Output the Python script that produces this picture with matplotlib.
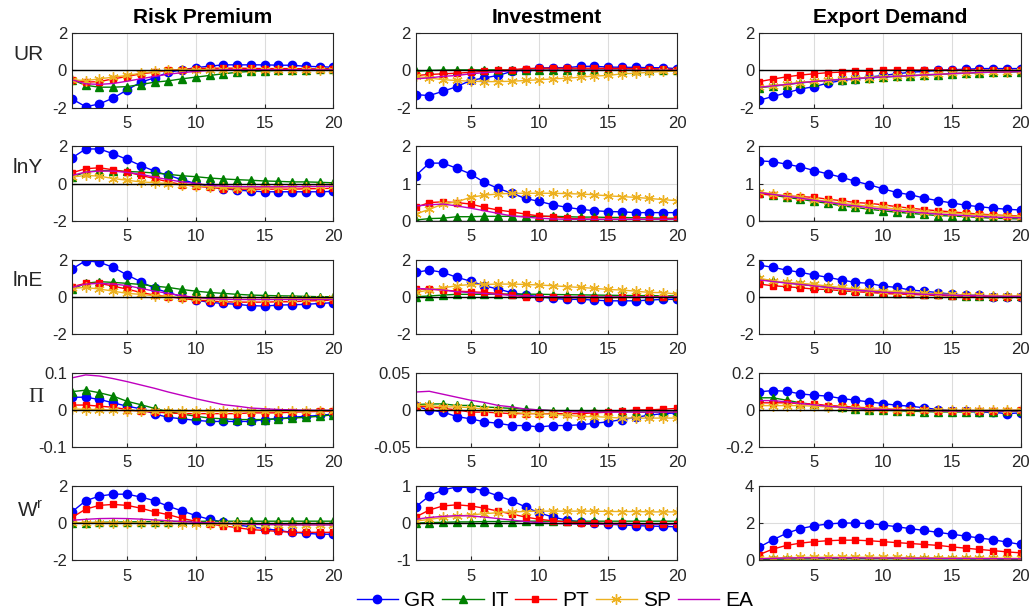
import numpy as np
import matplotlib
matplotlib.use('Agg')
import matplotlib.pyplot as plt

plt.rcParams['font.family'] = ['Liberation Sans', 'DejaVu Sans']
plt.rcParams['mathtext.fontset'] = 'custom'
plt.rcParams['mathtext.rm'] = 'Liberation Sans'
plt.rcParams['mathtext.it'] = 'Liberation Sans'

periods = np.arange(1, 21)
shocks = ['Risk Premium', 'Investment', 'Export Demand']
variables = ['UR', 'lnY', 'lnE', 'Π', 'W$^{\\rm r}$']
countries = ['GR', 'IT', 'PT', 'SP', 'EA']

# ---- UR ----
ur_rp = {
    'GR': [-1.53, -1.95, -1.8, -1.48, -1.05, -0.63, -0.4, -0.1, 0.03, 0.15, 0.23, 0.3, 0.3, 0.3, 0.3, 0.28, 0.28, 0.22, 0.2, 0.17],
    'IT': [-0.5, -0.8, -0.9, -0.9, -0.87, -0.76, -0.63, -0.56, -0.45, -0.36, -0.27, -0.18, -0.1, -0.05, -0.02, 0.0, 0.02, 0.04, 0.06, 0.1],
    'PT': [-0.5, -0.63, -0.6, -0.45, -0.33, -0.18, -0.1, 0.0, 0.05, 0.1, 0.12, 0.12, 0.12, 0.11, 0.1, 0.1, 0.1, 0.09, 0.08, 0.08],
    'SP': [-0.5, -0.55, -0.45, -0.36, -0.27, -0.15, -0.05, 0.0, 0.03, 0.04, 0.04, 0.04, 0.03, 0.03, 0.02, 0.02, 0.01, 0.01, 0.0, 0.0],
    'EA': [-0.5, -0.72, -0.75, -0.7, -0.58, -0.45, -0.32, -0.2, -0.12, -0.05, 0.0, 0.03, 0.04, 0.04, 0.04, 0.04, 0.04, 0.03, 0.03, 0.03],
}
ur_inv = {
    'GR': [-1.3, -1.35, -1.12, -0.87, -0.54, -0.4, -0.27, -0.05, 0.05, 0.13, 0.15, 0.15, 0.22, 0.22, 0.18, 0.17, 0.16, 0.15, 0.14, 0.1],
    'IT': [-0.05, 0.0, 0.02, 0.03, 0.03, 0.03, 0.03, 0.02, 0.02, 0.02, 0.02, 0.02, 0.02, 0.02, 0.02, 0.02, 0.02, 0.02, 0.02, 0.02],
    'PT': [-0.27, -0.22, -0.18, -0.15, -0.1, -0.05, 0.0, 0.04, 0.1, 0.12, 0.12, 0.12, 0.12, 0.12, 0.11, 0.11, 0.1, 0.1, 0.08, 0.04],
    'SP': [-0.32, -0.4, -0.5, -0.54, -0.58, -0.6, -0.6, -0.58, -0.54, -0.5, -0.45, -0.42, -0.36, -0.3, -0.27, -0.18, -0.15, -0.1, -0.05, -0.04],
    'EA': [-0.45, -0.4, -0.32, -0.27, -0.18, -0.12, -0.07, -0.02, 0.0, 0.01, 0.01, 0.01, 0.01, 0.01, 0.01, 0.01, 0.01, 0.01, 0.01, 0.01],
}
ur_exp = {
    'GR': [-1.6, -1.4, -1.2, -1.0, -0.87, -0.68, -0.54, -0.45, -0.36, -0.27, -0.18, -0.1, -0.05, 0.0, 0.04, 0.06, 0.1, 0.1, 0.1, 0.1],
    'IT': [-0.93, -0.85, -0.76, -0.67, -0.6, -0.54, -0.49, -0.45, -0.4, -0.36, -0.32, -0.29, -0.25, -0.22, -0.18, -0.15, -0.12, -0.09, -0.09, -0.07],
    'PT': [-0.6, -0.47, -0.34, -0.25, -0.18, -0.12, -0.09, -0.04, -0.04, 0.02, 0.02, 0.02, 0.02, 0.02, 0.02, 0.02, 0.02, 0.01, 0.01, 0.0],
    'SP': [-0.9, -0.83, -0.74, -0.65, -0.58, -0.52, -0.47, -0.43, -0.38, -0.34, -0.3, -0.27, -0.23, -0.2, -0.16, -0.13, -0.1, -0.08, -0.07, -0.05],
    'EA': [-0.9, -0.83, -0.75, -0.66, -0.59, -0.53, -0.48, -0.44, -0.39, -0.35, -0.31, -0.28, -0.24, -0.21, -0.17, -0.14, -0.11, -0.09, -0.08, -0.06],
}

# ---- lnY ----
lny_rp = {
    'GR': [1.38, 1.86, 1.86, 1.6, 1.3, 0.97, 0.67, 0.44, 0.21, 0.0, -0.14, -0.27, -0.35, -0.4, -0.44, -0.44, -0.44, -0.44, -0.44, -0.42],
    'IT': [0.35, 0.62, 0.7, 0.7, 0.65, 0.62, 0.57, 0.5, 0.42, 0.37, 0.3, 0.25, 0.21, 0.18, 0.14, 0.12, 0.09, 0.09, 0.07, 0.04],
    'PT': [0.58, 0.8, 0.85, 0.74, 0.62, 0.44, 0.27, 0.09, -0.05, -0.14, -0.21, -0.27, -0.3, -0.3, -0.3, -0.3, -0.3, -0.28, -0.27, -0.25],
    'SP': [0.35, 0.44, 0.4, 0.27, 0.18, 0.09, 0.05, 0.0, -0.07, -0.12, -0.18, -0.21, -0.23, -0.23, -0.21, -0.2, -0.18, -0.17, -0.15, -0.14],
    'EA': [0.44, 0.62, 0.67, 0.67, 0.6, 0.5, 0.35, 0.21, 0.09, 0.0, -0.09, -0.14, -0.16, -0.17, -0.17, -0.17, -0.16, -0.16, -0.15, -0.15],
}
lny_inv = {
    'GR': [1.21, 1.55, 1.55, 1.41, 1.26, 1.03, 0.87, 0.74, 0.6, 0.52, 0.43, 0.36, 0.31, 0.27, 0.25, 0.24, 0.22, 0.22, 0.22, 0.22],
    'IT': [0.02, 0.06, 0.07, 0.11, 0.11, 0.12, 0.12, 0.12, 0.12, 0.12, 0.12, 0.11, 0.1, 0.1, 0.09, 0.09, 0.08, 0.08, 0.07, 0.07],
    'PT': [0.36, 0.49, 0.51, 0.49, 0.45, 0.36, 0.29, 0.24, 0.18, 0.13, 0.11, 0.07, 0.05, 0.04, 0.04, 0.04, 0.04, 0.04, 0.05, 0.05],
    'SP': [0.18, 0.31, 0.45, 0.51, 0.63, 0.69, 0.72, 0.74, 0.74, 0.74, 0.74, 0.73, 0.72, 0.7, 0.67, 0.65, 0.63, 0.6, 0.57, 0.54],
    'EA': [0.4, 0.43, 0.45, 0.4, 0.34, 0.27, 0.2, 0.13, 0.1, 0.07, 0.05, 0.04, 0.04, 0.04, 0.04, 0.04, 0.04, 0.04, 0.04, 0.04],
}
lny_exp = {
    'GR': [1.61, 1.59, 1.52, 1.45, 1.35, 1.26, 1.17, 1.06, 0.97, 0.86, 0.76, 0.7, 0.61, 0.54, 0.48, 0.42, 0.38, 0.34, 0.31, 0.29],
    'IT': [0.74, 0.69, 0.63, 0.58, 0.52, 0.47, 0.4, 0.36, 0.31, 0.27, 0.23, 0.2, 0.17, 0.14, 0.13, 0.11, 0.09, 0.07, 0.06, 0.05],
    'PT': [0.72, 0.69, 0.67, 0.65, 0.63, 0.58, 0.54, 0.49, 0.47, 0.43, 0.38, 0.34, 0.3, 0.27, 0.24, 0.21, 0.18, 0.16, 0.14, 0.13],
    'SP': [0.78, 0.72, 0.67, 0.63, 0.57, 0.52, 0.47, 0.43, 0.39, 0.36, 0.31, 0.29, 0.25, 0.22, 0.21, 0.18, 0.16, 0.14, 0.13, 0.11],
    'EA': [0.76, 0.71, 0.66, 0.61, 0.55, 0.5, 0.44, 0.4, 0.35, 0.31, 0.27, 0.24, 0.21, 0.18, 0.16, 0.14, 0.12, 0.1, 0.09, 0.08],
}

# ---- lnE ----
lne_rp = {
    'GR': [1.49, 1.94, 1.85, 1.58, 1.17, 0.81, 0.45, 0.22, 0.0, -0.18, -0.3, -0.36, -0.41, -0.48, -0.5, -0.45, -0.43, -0.41, -0.36, -0.32],
    'IT': [0.41, 0.72, 0.81, 0.77, 0.72, 0.66, 0.57, 0.5, 0.39, 0.3, 0.23, 0.18, 0.13, 0.09, 0.07, 0.05, 0.04, 0.02, 0.0, 0.0],
    'PT': [0.54, 0.72, 0.72, 0.57, 0.41, 0.23, 0.09, 0.0, -0.09, -0.18, -0.23, -0.27, -0.29, -0.29, -0.29, -0.27, -0.27, -0.23, -0.21, -0.18],
    'SP': [0.45, 0.5, 0.41, 0.3, 0.18, 0.13, 0.05, 0.0, -0.05, -0.09, -0.13, -0.14, -0.14, -0.14, -0.14, -0.13, -0.12, -0.11, -0.1, -0.09],
    'EA': [0.5, 0.68, 0.72, 0.68, 0.6, 0.45, 0.3, 0.18, 0.05, -0.04, -0.1, -0.14, -0.15, -0.15, -0.15, -0.15, -0.15, -0.15, -0.15, -0.15],
}
lne_inv = {
    'GR': [1.31, 1.43, 1.31, 1.04, 0.84, 0.59, 0.41, 0.22, 0.09, 0.0, -0.09, -0.14, -0.14, -0.18, -0.22, -0.22, -0.22, -0.18, -0.14, -0.14],
    'IT': [0.0, 0.04, 0.09, 0.13, 0.13, 0.13, 0.14, 0.14, 0.14, 0.13, 0.12, 0.11, 0.1, 0.09, 0.08, 0.07, 0.06, 0.06, 0.05, 0.05],
    'PT': [0.41, 0.41, 0.36, 0.3, 0.27, 0.23, 0.18, 0.09, 0.0, 0.0, -0.04, -0.05, -0.05, -0.05, -0.05, -0.04, -0.03, -0.02, -0.01, 0.0],
    'SP': [0.23, 0.36, 0.48, 0.59, 0.66, 0.66, 0.68, 0.68, 0.66, 0.63, 0.59, 0.54, 0.5, 0.45, 0.39, 0.36, 0.3, 0.23, 0.22, 0.14],
    'EA': [0.45, 0.41, 0.36, 0.27, 0.22, 0.18, 0.13, 0.07, 0.04, 0.0, 0.0, -0.01, -0.01, -0.01, -0.01, -0.01, -0.01, -0.01, -0.01, -0.01],
}
lne_exp = {
    'GR': [1.7, 1.58, 1.43, 1.31, 1.17, 1.04, 0.9, 0.77, 0.72, 0.57, 0.5, 0.36, 0.3, 0.22, 0.14, 0.09, 0.09, 0.0, 0.0, 0.0],
    'IT': [0.93, 0.84, 0.75, 0.66, 0.59, 0.5, 0.41, 0.36, 0.3, 0.23, 0.22, 0.18, 0.14, 0.13, 0.09, 0.06, 0.05, 0.04, 0.02, 0.02],
    'PT': [0.68, 0.59, 0.54, 0.48, 0.41, 0.39, 0.32, 0.27, 0.23, 0.18, 0.14, 0.13, 0.09, 0.07, 0.04, 0.03, 0.02, 0.0, 0.0, 0.0],
    'SP': [0.99, 0.86, 0.77, 0.72, 0.66, 0.57, 0.5, 0.41, 0.36, 0.32, 0.27, 0.22, 0.18, 0.14, 0.13, 0.09, 0.08, 0.05, 0.04, 0.05],
    'EA': [0.9, 0.82, 0.73, 0.66, 0.58, 0.5, 0.42, 0.36, 0.3, 0.24, 0.21, 0.17, 0.13, 0.11, 0.08, 0.06, 0.05, 0.03, 0.02, 0.02],
}

# ---- Pi ----
pi_rp = {
    'GR': [0.034, 0.034, 0.028, 0.019, 0.01, 0.003, -0.011, -0.02, -0.024, -0.028, -0.031, -0.031, -0.031, -0.031, -0.026, -0.023, -0.02, -0.017, -0.015, -0.011],
    'IT': [0.049, 0.053, 0.046, 0.037, 0.023, 0.014, 0.004, -0.005, -0.011, -0.017, -0.022, -0.024, -0.026, -0.026, -0.026, -0.024, -0.022, -0.02, -0.017, -0.013],
    'PT': [0.013, 0.013, 0.01, 0.007, 0.001, -0.004, -0.006, -0.008, -0.01, -0.01, -0.01, -0.01, -0.01, -0.008, -0.008, -0.008, -0.006, -0.005, -0.004, -0.004],
    'SP': [0.003, 0.001, 0.001, -0.001, -0.002, -0.003, -0.004, -0.004, -0.004, -0.004, -0.004, -0.004, -0.004, -0.004, -0.004, -0.003, -0.003, -0.003, -0.002, -0.002],
    'EA': [0.086, 0.094, 0.091, 0.084, 0.076, 0.067, 0.058, 0.048, 0.039, 0.03, 0.022, 0.014, 0.01, 0.005, 0.003, 0.001, 0.0, -0.001, -0.001, -0.001],
}
pi_inv = {
    'GR': [0.005, 0.0, -0.003, -0.009, -0.012, -0.016, -0.018, -0.021, -0.021, -0.023, -0.021, -0.021, -0.02, -0.018, -0.016, -0.013, -0.01, -0.007, -0.005, -0.004],
    'IT': [0.007, 0.008, 0.008, 0.006, 0.006, 0.004, 0.003, 0.002, 0.001, 0.0, -0.001, -0.001, -0.002, -0.002, -0.002, -0.002, -0.003, -0.003, -0.003, -0.003],
    'PT': [0.005, 0.004, 0.002, 0.0, -0.003, -0.003, -0.004, -0.005, -0.005, -0.005, -0.005, -0.005, -0.005, -0.004, -0.003, -0.002, 0.0, 0.0, 0.001, 0.002],
    'SP': [0.006, 0.006, 0.004, 0.004, 0.003, 0.001, 0.0, -0.003, -0.005, -0.005, -0.006, -0.007, -0.009, -0.009, -0.01, -0.011, -0.011, -0.011, -0.011, -0.011],
    'EA': [0.024, 0.025, 0.021, 0.017, 0.013, 0.01, 0.006, 0.004, 0.001, 0.0, -0.001, -0.002, -0.003, -0.003, -0.003, -0.003, -0.003, -0.003, -0.003, -0.003],
}
pi_exp = {
    'GR': [0.097, 0.104, 0.1, 0.086, 0.079, 0.074, 0.061, 0.052, 0.043, 0.034, 0.025, 0.02, 0.011, 0.002, -0.004, -0.007, -0.011, -0.013, -0.02, -0.016],
    'IT': [0.065, 0.065, 0.052, 0.038, 0.029, 0.02, 0.014, 0.007, 0.002, -0.002, -0.004, -0.007, -0.009, -0.011, -0.011, -0.011, -0.009, -0.009, -0.007, -0.007],
    'PT': [0.038, 0.038, 0.038, 0.034, 0.032, 0.023, 0.02, 0.014, 0.011, 0.007, 0.002, -0.002, -0.002, -0.004, -0.004, -0.004, -0.004, -0.004, -0.004, -0.002],
    'SP': [0.023, 0.023, 0.023, 0.023, 0.02, 0.016, 0.014, 0.011, 0.007, 0.005, 0.002, -0.002, -0.002, -0.002, -0.002, -0.002, -0.002, -0.002, -0.002, -0.002],
    'EA': [0.05, 0.05, 0.043, 0.034, 0.027, 0.02, 0.014, 0.009, 0.005, 0.002, 0.0, -0.002, -0.004, -0.005, -0.006, -0.006, -0.006, -0.006, -0.005, -0.005],
}

# ---- W^r ----
wr_rp = {
    'GR': [0.6, 1.2, 1.45, 1.55, 1.55, 1.4, 1.2, 0.9, 0.65, 0.4, 0.2, 0.05, -0.1, -0.2, -0.3, -0.4, -0.5, -0.55, -0.6, -0.6],
    'IT': [0.0, 0.02, 0.04, 0.05, 0.06, 0.07, 0.08, 0.08, 0.09, 0.09, 0.1, 0.1, 0.1, 0.1, 0.1, 0.1, 0.1, 0.1, 0.1, 0.1],
    'PT': [0.3, 0.75, 0.95, 1.0, 0.95, 0.8, 0.6, 0.45, 0.25, 0.1, -0.05, -0.15, -0.25, -0.35, -0.4, -0.45, -0.5, -0.5, -0.5, -0.5],
    'SP': [0.0, 0.02, 0.02, 0.02, 0.01, 0.0, -0.01, -0.02, -0.03, -0.04, -0.05, -0.06, -0.07, -0.08, -0.08, -0.09, -0.09, -0.1, -0.1, -0.1],
    'EA': [0.15, 0.2, 0.24, 0.25, 0.24, 0.21, 0.17, 0.12, 0.08, 0.04, 0.01, -0.02, -0.04, -0.06, -0.08, -0.09, -0.1, -0.1, -0.1, -0.1],
}
wr_inv = {
    'GR': [0.43, 0.73, 0.89, 0.97, 0.95, 0.86, 0.73, 0.6, 0.43, 0.27, 0.16, 0.08, 0.03, 0.0, -0.03, -0.05, -0.07, -0.08, -0.09, -0.1],
    'IT': [0.0, 0.01, 0.02, 0.03, 0.03, 0.04, 0.04, 0.04, 0.05, 0.05, 0.05, 0.05, 0.05, 0.05, 0.05, 0.05, 0.05, 0.05, 0.05, 0.05],
    'PT': [0.16, 0.35, 0.46, 0.49, 0.46, 0.4, 0.32, 0.24, 0.16, 0.1, 0.06, 0.03, 0.01, 0.0, -0.01, -0.01, -0.02, -0.02, -0.02, -0.02],
    'SP': [0.05, 0.1, 0.15, 0.18, 0.22, 0.25, 0.28, 0.3, 0.31, 0.32, 0.32, 0.32, 0.32, 0.32, 0.31, 0.31, 0.31, 0.3, 0.3, 0.3],
    'EA': [0.1, 0.15, 0.18, 0.2, 0.19, 0.16, 0.12, 0.08, 0.04, 0.01, -0.01, -0.02, -0.03, -0.03, -0.03, -0.03, -0.03, -0.03, -0.03, -0.03],
}
wr_exp = {
    'GR': [0.7, 1.1, 1.45, 1.7, 1.85, 1.95, 2.0, 2.0, 1.97, 1.9, 1.8, 1.7, 1.6, 1.5, 1.4, 1.3, 1.2, 1.1, 0.98, 0.85],
    'IT': [0.05, 0.06, 0.07, 0.08, 0.08, 0.09, 0.09, 0.09, 0.09, 0.09, 0.09, 0.09, 0.08, 0.08, 0.08, 0.07, 0.07, 0.07, 0.06, 0.06],
    'PT': [0.3, 0.6, 0.8, 0.92, 1.0, 1.05, 1.08, 1.08, 1.05, 1.0, 0.95, 0.9, 0.85, 0.8, 0.72, 0.65, 0.58, 0.52, 0.45, 0.4],
    'SP': [0.1, 0.12, 0.14, 0.15, 0.16, 0.16, 0.16, 0.16, 0.16, 0.15, 0.15, 0.14, 0.14, 0.13, 0.13, 0.12, 0.12, 0.11, 0.11, 0.1],
    'EA': [0.08, 0.1, 0.12, 0.13, 0.13, 0.13, 0.13, 0.13, 0.12, 0.12, 0.12, 0.11, 0.11, 0.1, 0.1, 0.1, 0.09, 0.09, 0.08, 0.08],
}

panels = [[ur_rp, ur_inv, ur_exp],
          [lny_rp, lny_inv, lny_exp],
          [lne_rp, lne_inv, lne_exp],
          [pi_rp, pi_inv, pi_exp],
          [wr_rp, wr_inv, wr_exp]]

ylims = [[(-2, 2), (-2, 2), (-2, 2)],
         [(-2, 2), (0, 2), (0, 2)],
         [(-2, 2), (-2, 2), (-2, 2)],
         [(-0.1, 0.1), (-0.05, 0.05), (-0.2, 0.2)],
         [(-2, 2), (-1, 1), (0, 4)]]

styles = {
    'GR': dict(color='#0000ff', marker='o', markersize=6),
    'IT': dict(color='#008000', marker='^', markersize=6),
    'PT': dict(color='#ff0000', marker='s', markersize=5),
    'SP': dict(color='#edb120', marker=(6, 2, 0), markersize=7.5, markeredgewidth=1.0),
    'EA': dict(color='#bf00bf', marker=None),
}

fig, axes = plt.subplots(5, 3, figsize=(10.34, 6.15), dpi=100)
plt.subplots_adjust(left=0.0696, right=0.987, top=0.946, bottom=0.089,
                    wspace=0.314, hspace=0.52)

tick_col = '#262626'
for r in range(5):
    for c in range(3):
        ax = axes[r, c]
        data = panels[r][c]
        for k in countries:
            ax.plot(periods, data[k], linewidth=1.0, label=k, **styles[k])
        ax.axhline(0, color='black', linewidth=1.0, zorder=3)
        lo, hi = ylims[r][c]
        ax.set_xlim(1, 20)
        ax.set_ylim(lo, hi)
        ax.set_xticks([5, 10, 15, 20])
        ax.set_yticks([lo, (lo + hi) / 2, hi])
        ax.set_yticklabels(['%g' % v for v in [lo, (lo + hi) / 2, hi]])
        ax.grid(True, color='#dcdcdc', linewidth=0.8)
        ax.set_axisbelow(True)
        ax.tick_params(direction='in', labelsize=12, colors=tick_col, length=3)
        ax.tick_params(axis='x', pad=6)
        for s in ax.spines.values():
            s.set_color(tick_col)
            s.set_linewidth(0.8)
        if r == 0:
            ax.set_title(shocks[c], fontsize=15, fontweight='bold', pad=7)
        if c == 0:
            fam = ['Liberation Serif'] if r == 3 else ['Liberation Sans']
            ax.text(-0.11, 0.72 if r < 3 else 0.66, variables[r], transform=ax.transAxes,
                    ha='right', va='center', fontsize=15, family=fam, color='#262626')

handles, labels = axes[0, 0].get_legend_handles_labels()
fig.legend(handles, labels, loc='center', bbox_to_anchor=(555 / 1034, 1 - 601 / 615),
           ncol=5, frameon=False, fontsize=15, handlelength=2.0,
           columnspacing=0.3, handletextpad=0.3)

fig.savefig('out.png', dpi=100)
